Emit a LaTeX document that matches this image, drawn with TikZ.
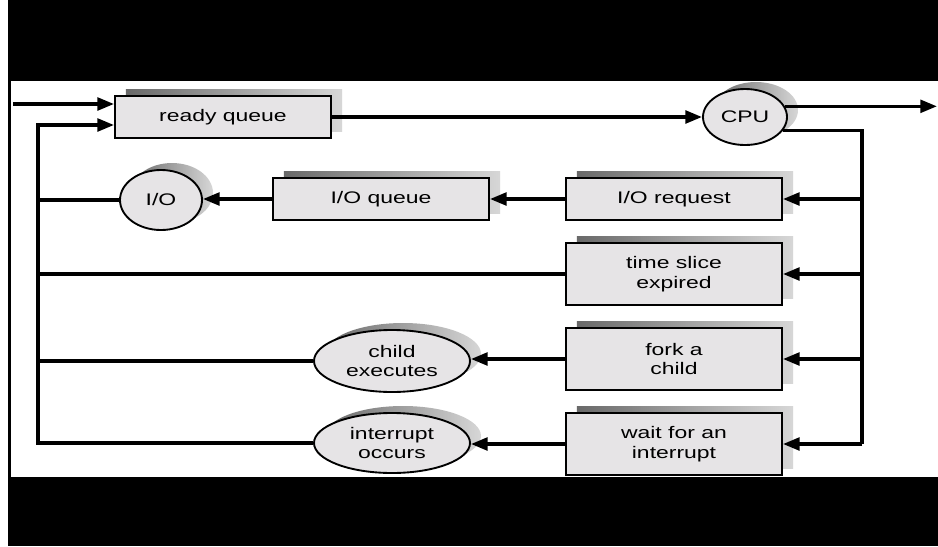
\documentclass[tikz,border=0pt]{standalone}
\usepackage{fontspec}
\setmainfont{Liberation Sans}[FakeStretch=1.37]
\usetikzlibrary{arrows.meta,shapes.geometric,shadows}
\definecolor{boxfill}{RGB}{230,228,230}
\definecolor{shadowdark}{RGB}{105,105,105}
\definecolor{shadowlight}{RGB}{215,215,215}

\tikzset{
    flat shadow/.style={general shadow={shadow xshift=0.33cm, shadow yshift=0.21cm, left color=shadowdark, right color=shadowlight}},
    queuebox/.style={draw=black, line width=1.6pt, fill=boxfill, minimum width=6.48cm, inner sep=0pt, align=center, flat shadow},
    eventell/.style={ellipse, draw=black, line width=1.6pt, fill=boxfill, inner sep=0pt, align=center, flat shadow},
    wire/.style={line width=2.9pt, line join=miter},
    arr/.style={wire, -{Triangle[length=0.5cm, width=0.38cm]}},
}

\begin{document}
\begin{tikzpicture}[x=0.03cm, y=-0.03cm, font=\fontsize{14.3}{17}\selectfont]

    \useasboundingbox[fill=white] (0,0) rectangle (938,546);

    % black frame
    \fill[black] (8,0) rectangle (938,81);
    \fill[black] (8,477) rectangle (938,546);
    \fill[black] (8,81) rectangle (11,477);

    % queues and events
    \node[queuebox, minimum height=1.26cm] (ready) at (223,117) {ready queue};
    \node[eventell, minimum width=2.52cm, minimum height=1.68cm] (cpu) at (745,117) {CPU};

    \node[queuebox, minimum height=1.26cm] (iorequest) at (674,199) {I/O request};
    \node[queuebox, minimum height=1.26cm] (ioqueue) at (381,199) {I/O queue};
    \node[eventell, minimum width=2.46cm, minimum height=1.8cm] (io) at (161,200) {I/O};

    \node[queuebox, minimum height=1.86cm] (timeslice) at (674,274) {time slice\\expired};

    \node[queuebox, minimum height=1.86cm] (fork) at (674,359) {fork a\\child};
    \node[eventell, minimum width=4.68cm, minimum height=1.86cm] (child) at (392,361) {child\\executes};

    \node[queuebox, minimum height=1.86cm] (wait) at (674,444) {wait for an\\interrupt};
    \node[eventell, minimum width=4.68cm, minimum height=1.8cm] (interrupt) at (392,443) {interrupt\\occurs};

    % bus lines
    \coordinate (entry) at (13,104);
    \coordinate (ltop) at (38,125);
    \coordinate (rbot) at (862,444);
    \coordinate (exit) at (937,107);

    \draw[arr] (entry) -- (entry -| ready.west);
    \draw[arr] (ready.east) -- (cpu.west);
    \draw[arr] (cpu.15) -- (cpu.15 -| exit);
    \draw[wire] (cpu.-20) -| (rbot);

    \draw[arr] (iorequest.east -| rbot) -- (iorequest.east);
    \draw[arr] (timeslice.east -| rbot) -- (timeslice.east);
    \draw[arr] (fork.east -| rbot) -- (fork.east);
    \draw[arr] (wait.east -| rbot) -- (wait.east);

    \draw[arr] (iorequest.west) -- (ioqueue.east);
    \draw[arr] (ioqueue.west) -- (ioqueue.west -| io.east);
    \draw[arr] (fork.west) -- (fork.west -| child.east);
    \draw[arr] (wait.west) -- (wait.west -| interrupt.east);

    \draw[wire] (io.west) -- (io.west -| ltop);
    \draw[wire] (timeslice.west) -- (timeslice.west -| ltop);
    \draw[wire] (child.west) -- (child.west -| ltop);
    \draw[arr] (interrupt.west) -| (ltop) -- (ltop -| ready.west);

\end{tikzpicture}
\end{document}
